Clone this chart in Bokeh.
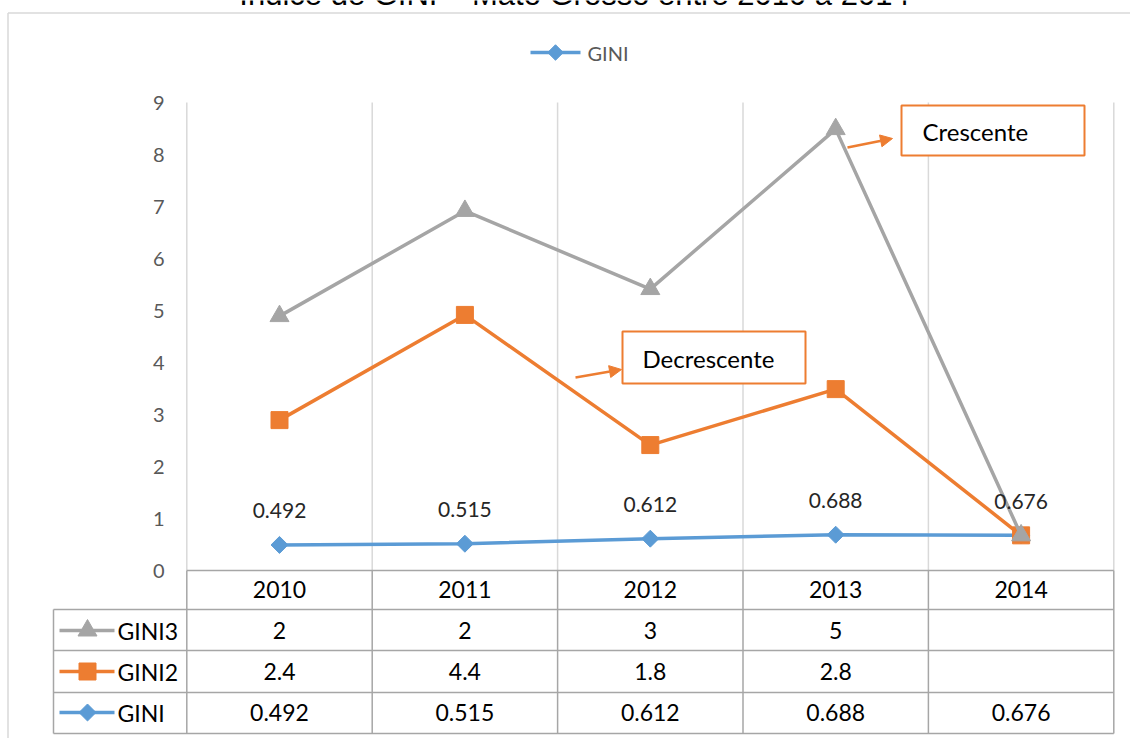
import math
from bokeh.plotting import figure
from bokeh.models import Range1d, Arrow, NormalHead
from bokeh.core.properties import value
from bokeh.embed import file_html
from bokeh.resources import INLINE

# ---------------- data ----------------
years = ["2010", "2011", "2012", "2013", "2014"]
gini = [0.492, 0.515, 0.612, 0.688, 0.676]
gini2 = [2.4, 4.4, 1.8, 2.8, None]
gini3 = [2, 2, 3, 5, None]
gini_labels = ["0.492", "0.515", "0.612", "0.688", "0.676"]
gini2_labels = ["2.4", "4.4", "1.8", "2.8", ""]
gini3_labels = ["2", "2", "3", "5", ""]
series_names = ["GINI3", "GINI2", "GINI"]
yticks = [0, 1, 2, 3, 4, 5, 6, 7, 8, 9]
title_text = "Índice de GINI – Mato Grosso entre 2010 a 2014"
legend_text = "GINI"
note_up = "Crescente"
note_down = "Decrescente"

# ---------------- colours / fonts ----------------
C_BLUE = "#5B9BD5"
C_ORANGE = "#ED7D31"
C_GRAY = "#A5A5A5"
C_GRID = "#D9D9D9"
C_TABLE = "#A6A6A6"
C_TICK = "#595959"
FONT = value("Lato")

# ---------------- geometry helpers (pixel space) ----------------
W, H = 1130, 738
PX_X = 185.4       # pixels per category
X0_REF = 186.3     # pixel of x = -0.5
PX_Y = 52.0        # pixels per unit
Y0_REF = 570.0     # pixel of y = 0

x_start = -0.5 - X0_REF / PX_X
x_end = x_start + W / PX_X
y_end = Y0_REF / PX_Y
y_start = y_end - H / PX_Y


def fx(px):
    return -0.5 + (px - X0_REF) / PX_X


def fy(py):
    return (Y0_REF - py) / PX_Y


idx = list(range(len(years)))

# stacked values (stacked line chart)
s1 = [g for g in gini]
s2 = [a + (b if b is not None else 0) for a, b in zip(s1, gini2)]
s3 = [a + (b if b is not None else 0) for a, b in zip(s2, gini3)]

p = figure(width=W, height=H, x_range=Range1d(x_start, x_end),
           y_range=Range1d(y_start, y_end), output_backend="svg",
           toolbar_location=None, min_border=0, x_axis_type=None,
           y_axis_type=None)
p.outline_line_color = None
p.background_fill_color = "white"
p.border_fill_color = "white"

# chart outer border
p.segment(x0=[fx(7.5), fx(7.5)], y0=[fy(12.5), fy(12.5)],
          x1=[fx(1140), fx(7.5)], y1=[fy(12.5), fy(750)],
          line_color=C_GRID, line_width=1.5)

# title (cut off at the top, as in the original)
p.text(x=[fx(574)], y=[fy(-6.5)], text=[title_text], text_align="center",
       text_baseline="middle", text_font=value("Liberation Sans"),
       text_font_size="31px", text_color="black")

# legend
p.line(x=[fx(530), fx(580)], y=[fy(52), fy(52)], line_color=C_BLUE, line_width=3.5)
p.scatter(x=[fx(555)], y=[fy(52)], marker="square", angle=math.pi / 4, size=11,
          fill_color=C_BLUE, line_color=C_BLUE)
p.text(x=[fx(587)], y=[fy(52)], text=[legend_text], text_align="left",
       text_baseline="middle", text_font=FONT, text_font_size="20px",
       text_color=C_TICK)

# vertical gridlines in plot area
bounds = [i - 0.5 for i in range(len(years) + 1)]
p.segment(x0=bounds, y0=[0] * len(bounds), x1=bounds, y1=[9] * len(bounds),
          line_color=C_GRID, line_width=1.5)

# y tick labels
p.text(x=[fx(164)] * len(yticks), y=yticks, text=[str(t) for t in yticks],
       text_align="right", text_baseline="middle", text_font=FONT,
       text_font_size="20px", text_color=C_TICK)

# series (stacked lines)
p.line(idx, s1, line_color=C_BLUE, line_width=3.5)
p.scatter(idx, s1, marker="square", angle=math.pi / 4, size=12,
          fill_color=C_BLUE, line_color=C_BLUE)
p.line(idx, s2, line_color=C_ORANGE, line_width=3.5)
p.scatter(idx, s2, marker="square", size=17, fill_color=C_ORANGE,
          line_color=C_ORANGE)
p.line(idx, s3, line_color=C_GRAY, line_width=3.5)
p.scatter(idx, s3, marker="triangle", size=19, fill_color=C_GRAY,
          line_color=C_GRAY)

# data labels for GINI
p.text(x=idx, y=s1, text=gini_labels, y_offset=-34, text_align="center",
       text_baseline="middle", text_font=FONT, text_font_size="21px",
       text_color="#262626")

# annotation boxes
p.quad(left=[fx(901), fx(622)], right=[fx(1084), fx(805)],
       top=[fy(105), fy(331)], bottom=[fy(155), fy(383)],
       fill_color="white", line_color=C_ORANGE, line_width=2)
p.text(x=[fx(922), fx(642)], y=[fy(131), fy(358)], text=[note_up, note_down],
       text_align="left", text_baseline="middle", text_font=FONT,
       text_font_size="24px", text_color="black")
for (xa, ya, xb, yb) in [(847, 147, 892, 138), (575, 377, 621, 369)]:
    p.add_layout(Arrow(end=NormalHead(size=12, fill_color=C_ORANGE,
                                      line_color=C_ORANGE),
                       x_start=fx(xa), y_start=fy(ya), x_end=fx(xb), y_end=fy(yb),
                       line_color=C_ORANGE, line_width=2.5))

# ---------------- data table ----------------
T_LEFT = 53
row_edges = [570, 609, 650, 692, 733]
row_centers = [589, 630, 671, 712]
# horizontal lines
p.segment(x0=[-0.5] + [fx(T_LEFT)] * 4, y0=[fy(r) for r in row_edges],
          x1=[4.5] * 5, y1=[fy(r) for r in row_edges],
          line_color=C_TABLE, line_width=1.5)
# vertical lines
p.segment(x0=bounds + [fx(T_LEFT)], y0=[0] * len(bounds) + [fy(609)],
          x1=bounds + [fx(T_LEFT)], y1=[fy(733)] * (len(bounds) + 1),
          line_color=C_TABLE, line_width=1.5)

# header
p.text(x=idx, y=[fy(row_centers[0])] * len(idx), text=years,
       text_align="center", text_baseline="middle", text_font=FONT,
       text_font_size="23px", text_color="black")

rows = [(gini3_labels, C_GRAY, "triangle", 19, 0),
        (gini2_labels, C_ORANGE, "square", 17, 0),
        (gini_labels, C_BLUE, "square", 12, math.pi / 4)]

for r, (labels, col, mk, sz, ang) in enumerate(rows):
    yc = fy(row_centers[r + 1])
    p.text(x=idx, y=[yc] * len(idx), text=labels, text_align="center",
           text_baseline="middle", text_font=FONT, text_font_size="23px",
           text_color="black")
    p.line(x=[fx(59), fx(114)], y=[yc, yc], line_color=col, line_width=3.5)
    p.scatter(x=[fx(87)], y=[yc], marker=mk, angle=ang, size=sz,
              fill_color=col, line_color=col)
    p.text(x=[fx(117)], y=[yc], text=[series_names[r]], text_align="left",
           text_baseline="middle", text_font=FONT, text_font_size="23px",
           text_color="black")

open("out.html", "w").write(file_html(p, INLINE))
